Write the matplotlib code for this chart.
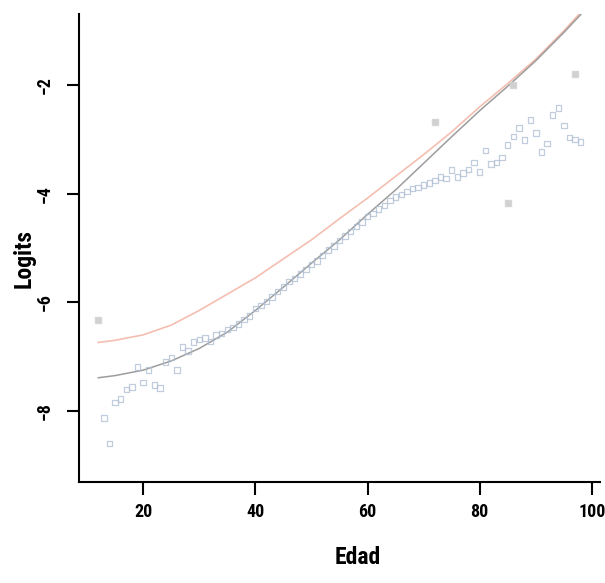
import numpy as np
import matplotlib
matplotlib.use('Agg')
import matplotlib.pyplot as plt
from matplotlib import font_manager

# logits observados por edad
edad = np.arange(13, 99)
logit_obs = [-8.13, -8.60, -7.85, -7.78, -7.61, -7.56, -7.19, -7.48, -7.25, -7.52,
             -7.58, -7.10, -7.02, -7.25, -6.82, -6.90, -6.73, -6.69, -6.66, -6.72,
             -6.60, -6.58, -6.50, -6.47, -6.40, -6.32, -6.25, -6.12, -6.06, -5.98,
             -5.90, -5.80, -5.72, -5.62, -5.56, -5.48, -5.40, -5.30, -5.24, -5.14,
             -5.04, -4.96, -4.86, -4.78, -4.70, -4.60, -4.52, -4.42, -4.36, -4.28,
             -4.22, -4.12, -4.06, -4.02, -3.96, -3.90, -3.88, -3.84, -3.80, -3.76,
             -3.69, -3.72, -3.56, -3.69, -3.62, -3.55, -3.42, -3.60, -3.20, -3.45,
             -3.42, -3.33, -3.10, -2.95, -2.79, -3.01, -2.64, -2.88, -3.23, -3.07,
             -2.55, -2.42, -2.74, -2.96, -3.00, -3.05]

# puntos aislados
edad_ais = [12, 72, 85, 86, 97]
logit_ais = [-6.33, -2.68, -4.17, -2.00, -1.80]

# curvas ajustadas
edad_fit = [12, 15, 20, 25, 30, 35, 40, 45, 50, 55, 60, 65, 70, 75, 80, 85, 90, 95, 98]
fit_gris = [-7.39, -7.35, -7.25, -7.08, -6.85, -6.55, -6.15, -5.72, -5.28, -4.85,
            -4.38, -3.93, -3.44, -2.95, -2.47, -2.02, -1.55, -1.03, -0.70]
fit_rojo = [-6.74, -6.70, -6.60, -6.42, -6.15, -5.85, -5.55, -5.20, -4.85, -4.46,
            -4.08, -3.68, -3.28, -2.86, -2.40, -1.97, -1.52, -1.00, -0.66]

# fuente estrecha si hay alguna instalada
disponibles = {f.name for f in font_manager.fontManager.ttflist}
fuente = 'Liberation Sans'
for nombre in ('Liberation Sans Narrow', 'Roboto Condensed', 'Open Sans Condensed',
               'Noto Sans Condensed', 'DejaVu Sans Condensed'):
    if nombre in disponibles:
        fuente = nombre
        break
plt.rcParams['font.family'] = [fuente, 'DejaVu Sans']
plt.rcParams['font.weight'] = 'bold'

fig = plt.figure(figsize=(6.05, 5.83), dpi=100)
ax = fig.add_axes([79 / 605, 101 / 583, 521 / 605, 468 / 583])

ax.plot(edad_fit, fit_rojo, color='#f2ae9c', linewidth=1.2, alpha=0.8, zorder=2)
ax.plot(edad_fit, fit_gris, color='#929292', linewidth=1.1, alpha=0.9, zorder=3)
ax.scatter(edad, logit_obs, marker='s', s=15, facecolors='none',
           edgecolors='#adbdd2', linewidths=0.9, alpha=0.75, zorder=4)
ax.scatter(edad_ais, logit_ais, marker='s', s=18, color='#cccccc',
           edgecolors='#d4d4d4', alpha=0.9, zorder=4)

ax.set_xlim(8.56, 101.44)
ax.set_ylim(-9.31, -0.69)
ax.set_xticks([20, 40, 60, 80, 100])
ax.set_yticks([-8, -6, -4, -2])

for lado in ('top', 'right'):
    ax.spines[lado].set_visible(False)
for lado in ('left', 'bottom'):
    ax.spines[lado].set_linewidth(1.5)

ax.tick_params(axis='both', direction='out', length=9, width=1.5, labelsize=13)
ax.tick_params(axis='x', pad=6)
ax.tick_params(axis='y', pad=9)
for lab in ax.get_yticklabels():
    lab.set_rotation(90)
    lab.set_va('center')

ax.set_xlabel('Edad', fontsize=17, fontweight='bold')
ax.set_ylabel('Logits', fontsize=17, fontweight='bold')
ax.xaxis.set_label_coords((358 - 79) / 521, -(546 - 482) / 468)
ax.yaxis.set_label_coords((36 - 79) / 521, (482 - 258) / 468)

fig.savefig('out.png', dpi=100)
